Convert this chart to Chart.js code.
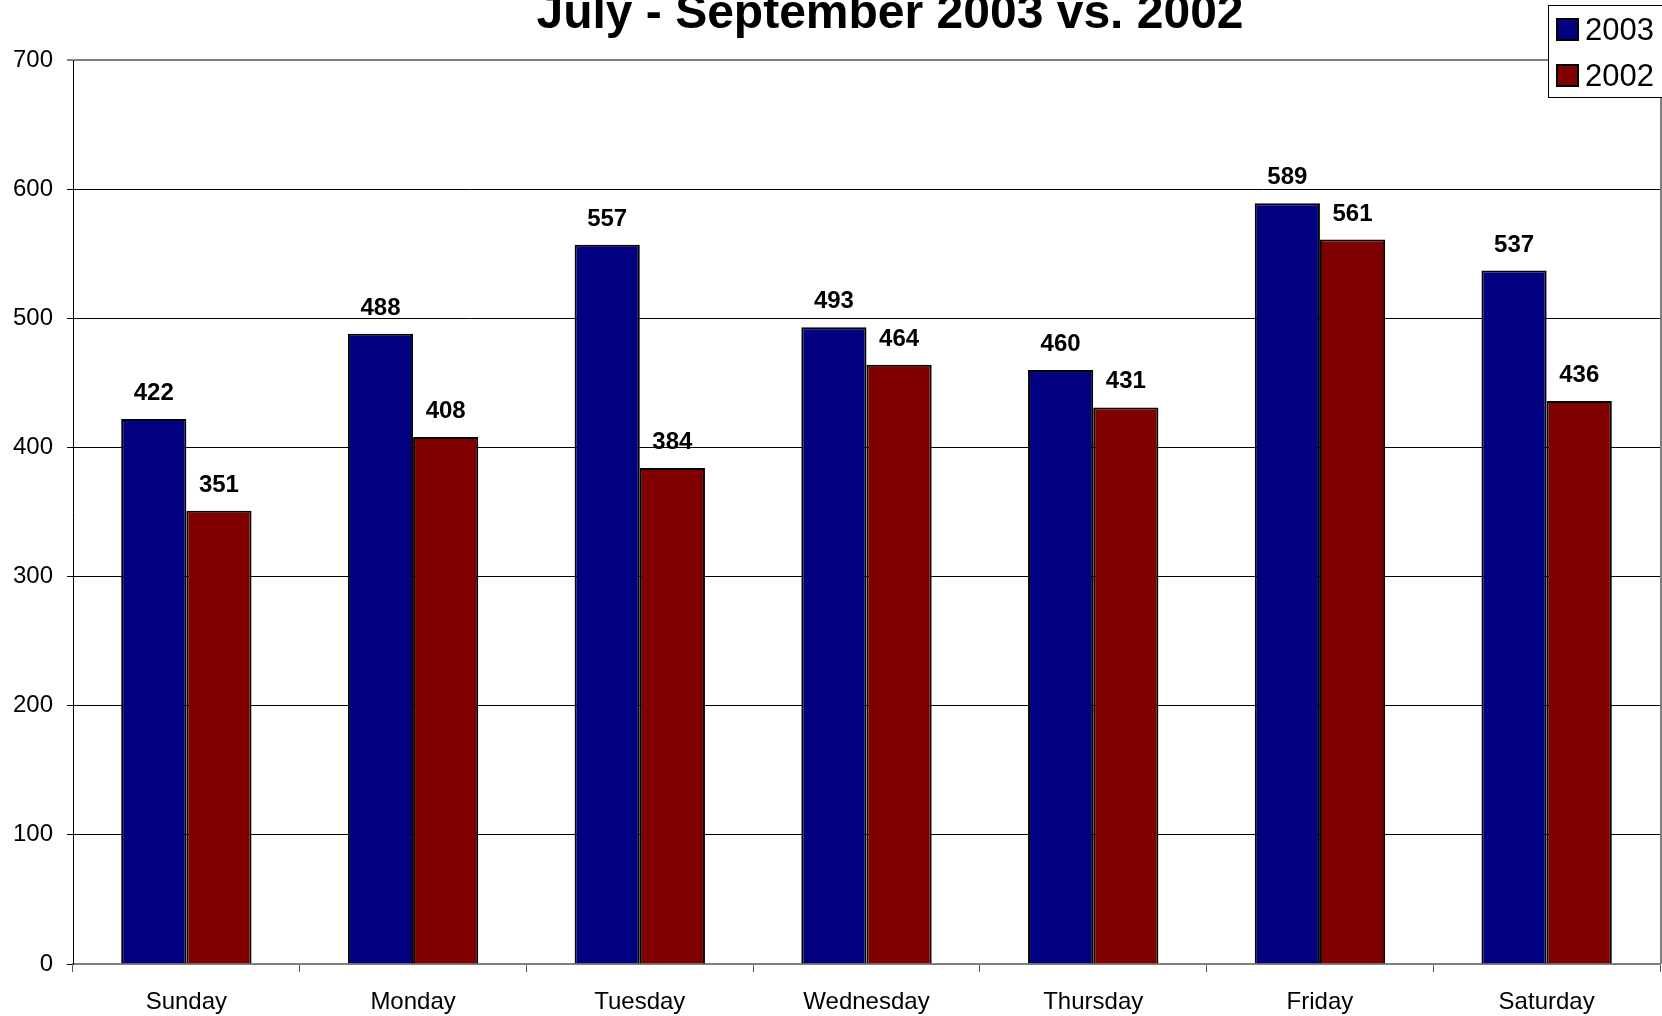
<!DOCTYPE html>
<html>
<head>
<meta charset="utf-8">
<title>July - September 2003 vs. 2002</title>
<script src="https://cdn.jsdelivr.net/npm/chart.js@4.4.1/dist/chart.umd.min.js"></script>
<style>
    html, body { margin: 0; padding: 0; background: #fff; overflow: hidden; }
    #chart { display: block; }
</style>
</head>
<body>
<canvas id="chart" width="1662" height="1016"></canvas>
<script>
const days = ['Sunday', 'Monday', 'Tuesday', 'Wednesday', 'Thursday', 'Friday', 'Saturday'];
const values2003 = [422, 488, 557, 493, 460, 589, 537];
const values2002 = [351, 408, 384, 464, 431, 561, 436];
const yTicks = [0, 100, 200, 300, 400, 500, 600, 700];
const chartTitle = 'July - September 2003 vs. 2002';

const FONT = '"Liberation Sans", Arial, sans-serif';

// title, legend box, plot frame and value labels drawn by hand like the original
const decorations = {
    id: 'decorations',
    afterDraw(chart) {
        const ctx = chart.ctx;
        const area = chart.chartArea;
        ctx.save();

        // right edge of plot area
        ctx.strokeStyle = '#808080';
        ctx.lineWidth = 2;
        ctx.beginPath();
        ctx.moveTo(area.right + 1, area.top);
        ctx.lineTo(area.right + 1, area.bottom);
        ctx.stroke();

        // value labels above bars
        ctx.fillStyle = '#000';
        ctx.font = 'bold 24px ' + FONT;
        ctx.textAlign = 'center';
        ctx.textBaseline = 'alphabetic';
        chart.data.datasets.forEach((ds, i) => {
            chart.getDatasetMeta(i).data.forEach((bar, j) => {
                ctx.fillText(String(ds.data[j]), bar.x, bar.y - 19);
            });
        });

        // title
        ctx.font = 'bold 48px ' + FONT;
        ctx.fillText(chartTitle, 890, 28);

        // legend
        ctx.fillStyle = '#fff';
        ctx.fillRect(1548, 5, 120, 92);
        ctx.strokeStyle = '#000';
        ctx.lineWidth = 1;
        ctx.strokeRect(1548.5, 5.5, 120, 92);
        ctx.font = '31px ' + FONT;
        ctx.textAlign = 'left';
        ctx.textBaseline = 'middle';
        chart.data.datasets.forEach((ds, i) => {
            const y = 19 + i * 46;
            ctx.fillStyle = ds.backgroundColor;
            ctx.fillRect(1557, y, 21, 21);
            ctx.strokeStyle = '#000';
            ctx.lineWidth = 2;
            ctx.strokeRect(1557, y, 21, 21);
            ctx.fillStyle = '#000';
            ctx.fillText(ds.label, 1585, y + 12);
        });

        ctx.restore();
    }
};

new Chart(document.getElementById('chart'), {
    type: 'bar',
    data: {
        labels: days,
        datasets: [
            {
                label: '2003',
                data: values2003,
                backgroundColor: '#000080',
                borderColor: '#000',
                borderWidth: 2,
                categoryPercentage: 0.575,
                barPercentage: 1.0
            },
            {
                label: '2002',
                data: values2002,
                backgroundColor: '#800000',
                borderColor: '#000',
                borderWidth: 2,
                categoryPercentage: 0.575,
                barPercentage: 1.0
            }
        ]
    },
    options: {
        responsive: false,
        animation: false,
        devicePixelRatio: 1,
        layout: { padding: { top: 60, right: 2, left: 0, bottom: 0 } },
        plugins: {
            legend: { display: false },
            title: { display: false },
            tooltip: { enabled: false }
        },
        scales: {
            x: {
                grid: {
                    offset: true,
                    drawOnChartArea: false,
                    color: '#555',
                    tickLength: 8
                },
                border: { color: '#808080', width: 2 },
                ticks: {
                    color: '#000',
                    font: { family: FONT, size: 24 },
                    padding: 16,
                    maxRotation: 0
                },
                afterFit(scale) { scale.height = 52; }
            },
            y: {
                min: 0,
                max: 700,
                afterBuildTicks(scale) {
                    scale.ticks = yTicks.map(v => ({ value: v }));
                },
                grid: {
                    color: ctx => ctx.tick && ctx.tick.value === 700 ? '#808080' : '#000',
                    lineWidth: ctx => ctx.tick && ctx.tick.value === 700 ? 2 : 1,
                    tickLength: 6
                },
                border: { color: '#000', width: 1 },
                ticks: {
                    color: '#000',
                    font: { family: FONT, size: 24 },
                    padding: 14
                },
                afterFit(scale) { scale.width = 73; }
            }
        }
    },
    plugins: [decorations]
});
</script>
</body>
</html>
